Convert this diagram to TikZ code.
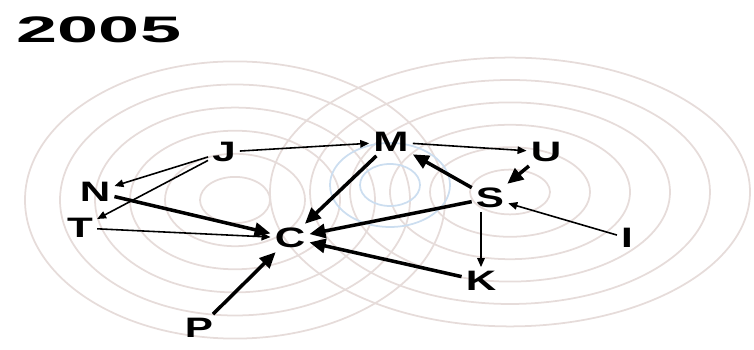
\documentclass[tikz,border=0pt]{standalone}
\usepackage{fontspec}
\setmainfont{Liberation Sans}
\usepackage{tikz}
\usetikzlibrary{arrows.meta, positioning, calc}

\definecolor{ringred}{RGB}{230,220,218}
\definecolor{ringblue}{RGB}{204,222,240}
\newcommand{\stretchlbl}[2][1.5]{\scalebox{#1}[1]{#2}}

\begin{document}
\begin{tikzpicture}[x=0.02cm, y=-0.02cm, thick,
    lbl/.style={font=\fontsize{16}{16}\selectfont\bfseries, inner sep=2pt},
    strong/.style={-{Triangle[length=3.2mm, width=2.8mm]}, line width=2pt},
    weak/.style={-{Triangle[length=1.8mm, width=1.5mm]}, line width=0.9pt},
    ring/.style={ringred, line width=1pt}]
    \useasboundingbox (0,0) rectangle (754,350);

    % Rings
    \begin{scope}
        \clip (0,0) rectangle (754,350);
        \foreach \r in {35,70,...,210}
            \draw[ring] (235,200) ellipse ({\r} and {0.66*\r});
        \foreach \r in {40,80,...,240}
            \draw[ring] (510,192) ellipse ({\r} and {0.56*\r});
        \foreach \r in {30,60}
            \draw[ring, ringblue] (390,185) ellipse ({\r} and {0.7*\r});
    \end{scope}

    % Year
    \node[lbl] (yr) at (99,30) {\stretchlbl[2]{\fontsize{21}{21}\selectfont 2005}};

    % Actors
    \node[lbl] (j) at (224,152) {\stretchlbl{J}};
    \node[lbl] (m) at (391,142) {\stretchlbl{M}};
    \node[lbl] (u) at (546,152) {\stretchlbl{U}};
    \node[lbl] (n) at (95,192) {\stretchlbl{N}};
    \node[lbl] (t) at (80,228) {\stretchlbl{T}};
    \node[lbl] (c) at (290,238) {\stretchlbl{C}};
    \node[lbl] (s) at (490,198) {\stretchlbl{S}};
    \node[lbl] (i) at (627,238) {\stretchlbl{I}};
    \node[lbl] (k) at (481,281) {\stretchlbl{K}};
    \node[lbl] (p) at (199,328) {\stretchlbl{P}};

    % Thin links
    \draw[weak] (j) -- (m);
    \draw[weak] (m) -- (u);
    \draw[weak] (j) -- (n);
    \draw[weak] (j) -- (t);
    \draw[weak] (t) -- (c);
    \draw[weak] (k |- s.south) -- (k);
    \draw[weak] (i) -- (s);

    % Strong links
    \draw[strong] (n) -- (c);
    \draw[strong] (m) -- (c);
    \draw[strong] (s) -- (m);
    \draw[strong] (u) -- (s);
    \draw[strong] (s) -- (c);
    \draw[strong] (k) -- (c);
    \draw[strong] (p) -- (c);
\end{tikzpicture}
\end{document}
